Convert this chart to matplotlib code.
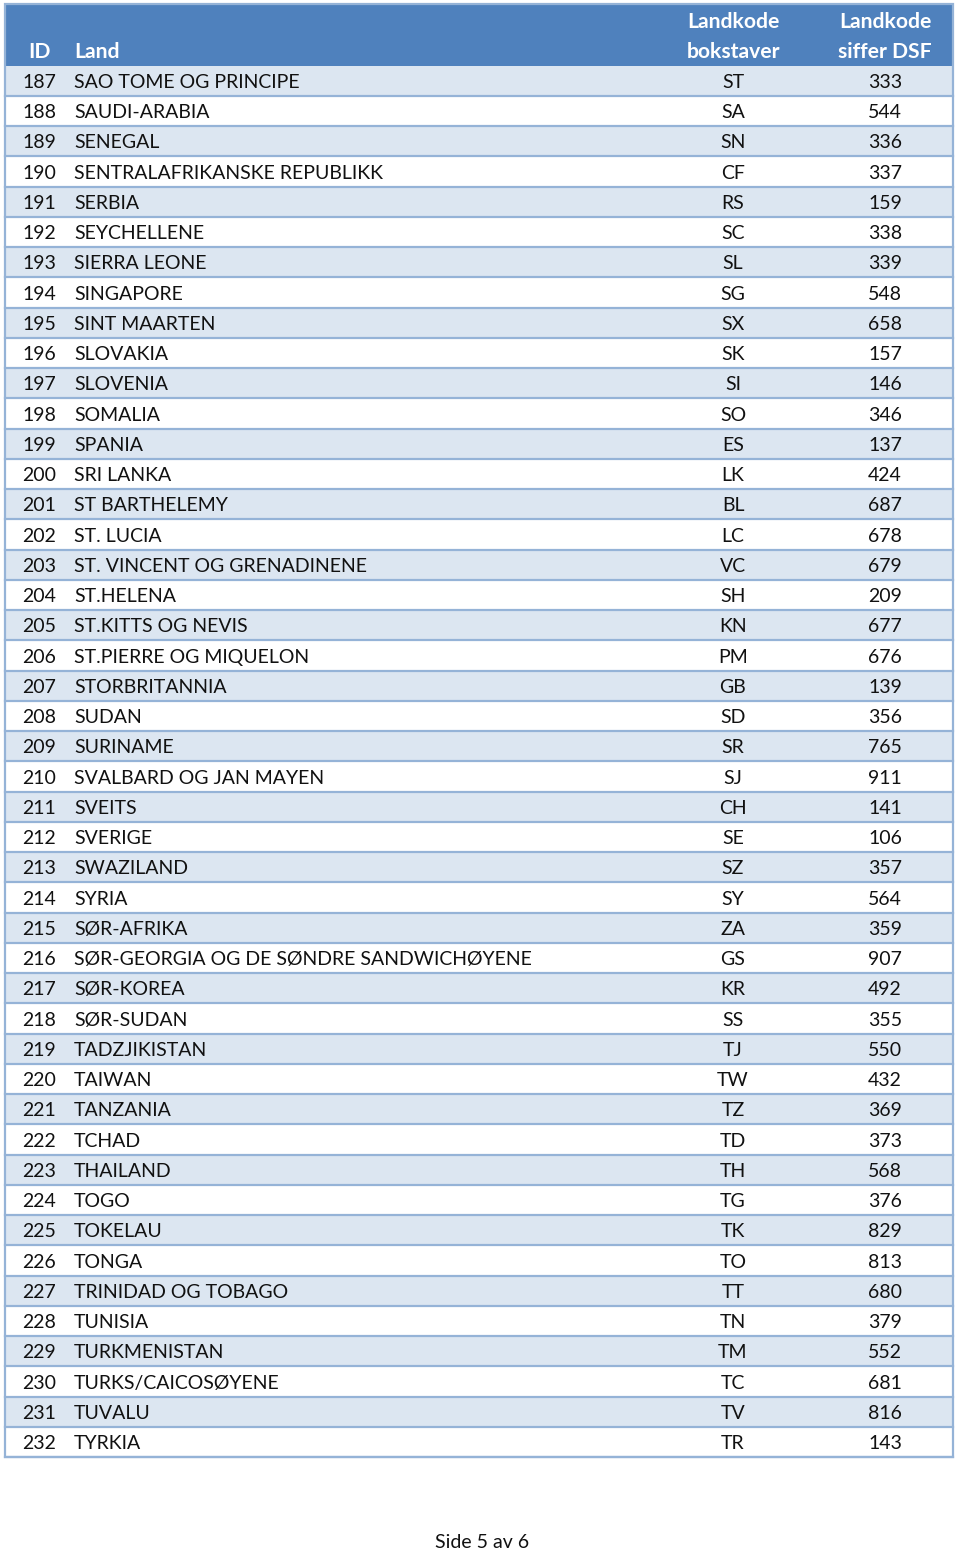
import matplotlib
matplotlib.use("Agg")
import matplotlib.pyplot as plt
from matplotlib.patches import Rectangle

ids = list(range(187, 233))
countries = [
    "SAO TOME OG PRINCIPE", "SAUDI-ARABIA", "SENEGAL", "SENTRALAFRIKANSKE REPUBLIKK",
    "SERBIA", "SEYCHELLENE", "SIERRA LEONE", "SINGAPORE", "SINT MAARTEN", "SLOVAKIA",
    "SLOVENIA", "SOMALIA", "SPANIA", "SRI LANKA", "ST BARTHELEMY", "ST. LUCIA",
    "ST. VINCENT OG GRENADINENE", "ST.HELENA", "ST.KITTS OG NEVIS", "ST.PIERRE OG MIQUELON",
    "STORBRITANNIA", "SUDAN", "SURINAME", "SVALBARD OG JAN MAYEN", "SVEITS", "SVERIGE",
    "SWAZILAND", "SYRIA", "SØR-AFRIKA", "SØR-GEORGIA OG DE SØNDRE SANDWICHØYENE",
    "SØR-KOREA", "SØR-SUDAN", "TADZJIKISTAN", "TAIWAN", "TANZANIA", "TCHAD", "THAILAND",
    "TOGO", "TOKELAU", "TONGA", "TRINIDAD OG TOBAGO", "TUNISIA", "TURKMENISTAN",
    "TURKS/CAICOSØYENE", "TUVALU", "TYRKIA",
]
letter_codes = [
    "ST", "SA", "SN", "CF", "RS", "SC", "SL", "SG", "SX", "SK", "SI", "SO", "ES", "LK",
    "BL", "LC", "VC", "SH", "KN", "PM", "GB", "SD", "SR", "SJ", "CH", "SE", "SZ", "SY",
    "ZA", "GS", "KR", "SS", "TJ", "TW", "TZ", "TD", "TH", "TG", "TK", "TO", "TT", "TN",
    "TM", "TC", "TV", "TR",
]
dsf_codes = [
    333, 544, 336, 337, 159, 338, 339, 548, 658, 157, 146, 346, 137, 424, 687, 678, 679,
    209, 677, 676, 139, 356, 765, 911, 141, 106, 357, 564, 359, 907, 492, 355, 550, 432,
    369, 373, 568, 376, 829, 813, 680, 379, 552, 681, 816, 143,
]
header_id = "ID"
header_land = "Land"
header_letters = "Landkode\nbokstaver"
header_dsf = "Landkode\nsiffer DSF"
footer = "Side 5 av 6"

W, H = 960, 1549
fig = plt.figure(figsize=(W / 100, H / 100), dpi=100)
ax = fig.add_axes([0, 0, 1, 1])
ax.set_xlim(0, W)
ax.set_ylim(H, 0)
ax.axis("off")

FONT = "Lato"
FS = 14.0
HFS = 15.2
header_bg = "#4F81BD"
band = "#DCE6F1"
line = "#95B3D7"

left, right = 5, 953
top, head_bot = 4, 65.5
row_h = 30.25
n = len(ids)
bottom = head_bot + n * row_h
dy = 1.8

ax.add_patch(Rectangle((left, top), right - left, head_bot - top, color=header_bg, lw=0))
for i in range(n):
    y0 = head_bot + i * row_h
    if i % 2 == 0:
        ax.add_patch(Rectangle((left, y0), right - left, row_h, color=band, lw=0))
    ax.plot([left, right], [y0 + row_h, y0 + row_h], color=line, lw=1.6)
ax.add_patch(Rectangle((left, top), right - left, bottom - top, fill=False,
                       edgecolor=line, lw=1.6))

x_id, x_land, x_let, x_dsf = 39, 74, 733, 885
for i in range(n):
    yc = head_bot + (i + 0.5) * row_h + dy
    kw = dict(fontsize=FS, family=FONT, color="#111111", va="center")
    ax.text(x_id, yc, str(ids[i]), ha="center", **kw)
    ax.text(x_land, yc, countries[i], ha="left", **kw)
    ax.text(x_let, yc, letter_codes[i], ha="center", **kw)
    ax.text(x_dsf, yc, str(dsf_codes[i]), ha="center", **kw)

hk = dict(fontsize=HFS, family=FONT, color="white", fontweight="bold", va="center")
ax.text(x_id, 50 + dy, header_id, ha="center", **hk)
ax.text(x_land, 50 + dy, header_land, ha="left", **hk)
for xc, txt in [(x_let, header_letters), (x_dsf, header_dsf)]:
    l1, l2 = txt.split("\n")
    ax.text(xc, 20 + dy, l1, ha="center", **hk)
    ax.text(xc, 50 + dy, l2, ha="center", **hk)

ax.text(482, 1541 + dy, footer, ha="center", va="center", fontsize=FS, family=FONT, color="#111111")

fig.savefig("out.png", dpi=100)
